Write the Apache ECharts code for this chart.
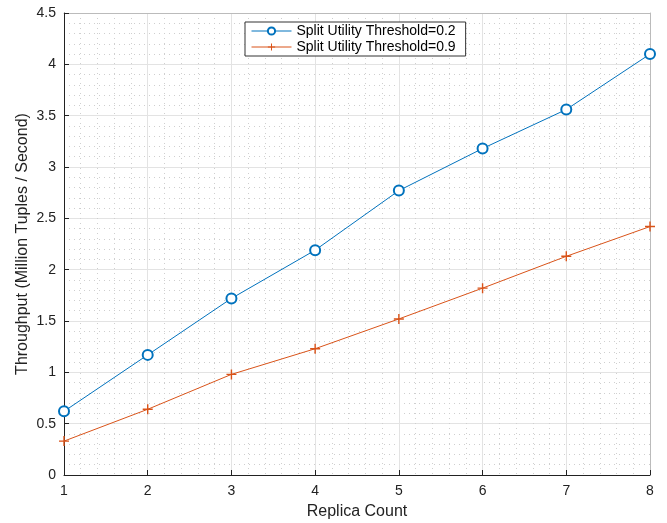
<!DOCTYPE html>
<html><head><meta charset="utf-8">
<script src="https://cdn.jsdelivr.net/npm/echarts@6/dist/echarts.min.js"></script>
<style>html,body{margin:0;padding:0;background:#fff}#c{width:667px;height:523px}</style>
</head><body><div id="c"></div>
<script>
const replicas = [1, 2, 3, 4, 5, 6, 7, 8];
const thr02 = [0.62, 1.17, 1.72, 2.19, 2.77, 3.18, 3.56, 4.10];
const thr09 = [0.33, 0.64, 0.98, 1.23, 1.52, 1.82, 2.13, 2.42];
const seriesNames = ['Split Utility Threshold=0.2', 'Split Utility Threshold=0.9'];

const font = 'Liberation Sans, Arial, Helvetica, sans-serif';
const chart = echarts.init(document.getElementById('c'));
const gridLine = {show: true, lineStyle: {color: '#e3e3e3', width: 1}};
const minorLine = {show: true, lineStyle: {color: '#cfcfcf', width: 1, type: [1, 4]}};
chart.setOption({
  animation: false,
  grid: {left: 64, right: 17, top: 13, bottom: 48, containLabel: false, outerBoundsMode: 'none'},
  legend: {
    orient: 'vertical', left: 245, top: 22,
    backgroundColor: '#fff', borderColor: '#333', borderWidth: 1,
    padding: [2, 10, 2, 6], itemGap: 2, itemWidth: 40, itemHeight: 9,
    lineStyle: {width: 1},
    textStyle: {fontFamily: font, fontSize: 14, color: '#000'},
    data: seriesNames
  },
  xAxis: [{
    type: 'value', min: 1, max: 8, interval: 1,
    name: 'Replica Count', nameLocation: 'middle', nameGap: 29, nameMoveOverlap: false,
    nameTextStyle: {fontFamily: font, fontSize: 16, color: '#222'},
    axisLine: {show: true, onZero: false, lineStyle: {color: '#222', width: 1}},
    axisTick: {show: true, inside: true, length: 5, lineStyle: {color: '#222'}},
    axisLabel: {fontFamily: font, fontSize: 14, color: '#222', margin: 9},
    splitLine: gridLine,
    minorTick: {show: false, splitNumber: 5},
    minorSplitLine: minorLine
  }, {
    type: 'value', min: 1, max: 8, interval: 1, position: 'top',
    axisLine: {show: true, onZero: false, lineStyle: {color: '#bbb', width: 1}},
    axisTick: {show: false}, axisLabel: {show: false}, splitLine: {show: false}
  }],
  yAxis: [{
    type: 'value', min: 0, max: 4.5, interval: 0.5,
    name: 'Throughput (Million Tuples / Second)', nameLocation: 'middle', nameGap: 33, nameMoveOverlap: false,
    nameTextStyle: {fontFamily: font, fontSize: 16, color: '#222'},
    axisLine: {show: true, onZero: false, lineStyle: {color: '#222', width: 1}},
    axisTick: {show: true, inside: true, length: 5, lineStyle: {color: '#222'}},
    axisLabel: {fontFamily: font, fontSize: 14, color: '#222', margin: 8},
    splitLine: gridLine,
    minorTick: {show: false, splitNumber: 5},
    minorSplitLine: minorLine
  }, {
    type: 'value', min: 0, max: 4.5, interval: 0.5, position: 'right',
    axisLine: {show: true, onZero: false, lineStyle: {color: '#bbb', width: 1}},
    axisTick: {show: false}, axisLabel: {show: false}, splitLine: {show: false}
  }],
  series: [{
    name: seriesNames[0], type: 'line',
    data: replicas.map((x, i) => [x, thr02[i]]),
    symbol: 'emptyCircle', symbolSize: 10,
    lineStyle: {color: '#0072BD', width: 1},
    itemStyle: {color: '#0072BD', borderColor: '#0072BD', borderWidth: 1.5}
  }, {
    name: seriesNames[1], type: 'line',
    data: replicas.map((x, i) => [x, thr09[i]]),
    symbol: 'path://M4.3,0 H5.7 V4.3 H10 V5.7 H5.7 V10 H4.3 V5.7 H0 V4.3 H4.3 Z', symbolSize: 10,
    lineStyle: {color: '#D95319', width: 1},
    itemStyle: {color: '#D95319', borderWidth: 0}
  }]
});
</script></body></html>
